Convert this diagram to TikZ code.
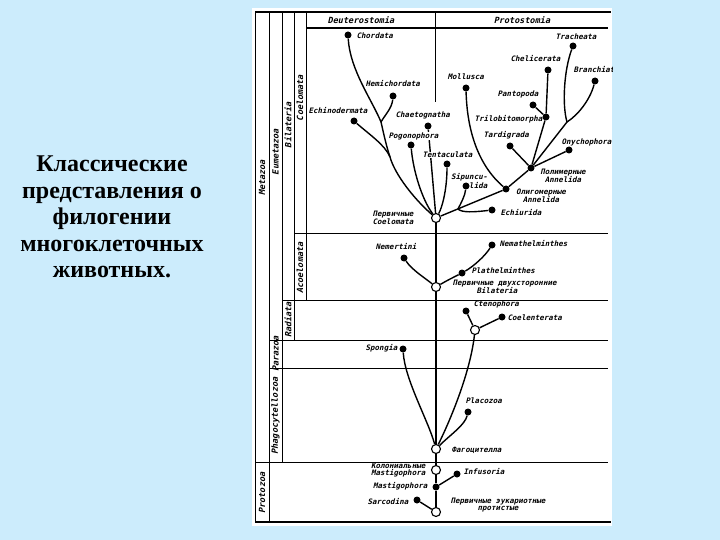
\documentclass[tikz,border=0pt]{standalone}
\usepackage{fontspec}
\setmainfont{Liberation Serif}
\newfontfamily\labfont[FakeSlant=0.22]{DejaVu Sans Mono}
\definecolor{bg}{RGB}{204,236,252}
\tikzset{
 lab/.style={font=\labfont\bfseries\fontsize{7.5}{8.5}\selectfont, inner sep=0.5pt},
 tight/.style={font=\labfont\bfseries\fontsize{7.5}{7.5}\selectfont},
 hdr/.style={font=\labfont\bfseries\fontsize{8.5}{9}\selectfont, inner sep=0.5pt},
 col/.style={font=\labfont\bfseries\fontsize{8.5}{9}\selectfont, rotate=90, inner sep=0.5pt},
 dot/.style={circle, fill=black, inner sep=0pt, minimum size=7pt},
 ring/.style={circle, draw=black, fill=white, line width=1.1pt, inner sep=0pt, minimum size=9pt},
 br/.style={line width=1.4pt},
 fr/.style={line width=0.8pt},
 mask/.style={fill=white}
}
\begin{document}
\begin{tikzpicture}[x=1pt,y=-1pt]
\fill[bg] (0,0) rectangle (720,540);
\useasboundingbox (0,0) rectangle (720,540);
% title
\node[font=\bfseries\fontsize{24}{26.5}\selectfont, align=center] (title) at (112,217)
 {Классические\\представления о\\филогении\\многоклеточных\\животных.};
% panel
\fill[white] (252,8) rectangle (612,526);
\begin{scope}
\clip (252,8) rectangle (612,526);
% frame
\draw[line width=1.1pt] (255,12) -- (611,12);
\draw[line width=1.6pt] (255,522) -- (611,522);
\draw[fr] (255,12) -- (255,522);
\draw[fr] (269,12) -- (269,522);
\draw[fr] (282,12) -- (282,462);
\draw[fr] (294,12) -- (294,340);
\draw[fr] (306,12) -- (306,300);
\draw[line width=1.2pt] (306,28) -- (608,28);
\draw[fr] (435,12) -- (435,102);
\draw[fr] (294,233) -- (608,233);
\draw[fr] (282,300) -- (608,300);
\draw[fr] (269,340) -- (608,340);
\draw[fr] (269,368) -- (608,368);
\draw[fr] (255,462) -- (608,462);
% column labels
\node[col] (lmeta) at (262,178) {Metazoa};
\node[col] (leume) at (275.5,152) {Eumetazoa};
\node[col] (lbila) at (288,125) {Bilateria};
\node[col] (lcoelo) at (300,98) {Coelomata};
\node[col] (lacoel) at (300,268) {Acoelomata};
\node[col] (lrad) at (288,320) {Radiata};
\node[col] (lpara) at (275.5,354) {Parazoa};
\node[col] (lphagz) at (275.5,416) {Phagocytellozoa};
\node[col] (lproto) at (262,493) {Protozoa};
\node[hdr] (ldeut) at (361,20) {Deuterostomia};
\node[hdr] (lprot) at (522,20) {Protostomia};
% tree nodes
\node[ring] (p0) at (436,512) {};
\node[dot] (mast) at (436,487) {};
\node[ring] (cmast) at (436,470) {};
\node[ring] (phag) at (436,449) {};
\node[ring] (bil) at (436,287) {};
\node[ring] (coel) at (436,218) {};
\node[dot] (sarc) at (417,500) {};
\node[dot] (inf) at (457,474) {};
\node[dot] (spon) at (403,349) {};
\node[dot] (plac) at (468,412) {};
\node[ring] (cnid) at (475,330) {};
\node[dot] (cten) at (466,311) {};
\node[dot] (coelen) at (502,317) {};
\node[dot] (nemer) at (404,258) {};
\node[dot] (plat) at (462,273) {};
\node[dot] (nemat) at (492,245) {};
\node[dot] (chor) at (348,35) {};
\node[dot] (hemi) at (393,96) {};
\node[dot] (echin) at (354,121) {};
\node[dot] (chaet) at (428,126) {};
\node[dot] (pogo) at (411,145) {};
\node[dot] (tent) at (447,164) {};
\node[dot] (sip) at (466,186) {};
\node[dot] (echiu) at (492,210) {};
\node[dot] (olig) at (506,189) {};
\node[dot] (poly) at (531,168) {};
\node[dot] (onych) at (569,150) {};
\node[dot] (tard) at (510,146) {};
\node[dot] (moll) at (466,88) {};
\node[dot] (trach) at (573,46) {};
\node[dot] (branch) at (595,81) {};
\node[dot] (chel) at (548,70) {};
\node[dot] (panto) at (533,105) {};
\node[dot] (trilo) at (546,117) {};
\coordinate (J1) at (390,157);
\coordinate (J2) at (381,122);
\coordinate (JS) at (458,209);
\coordinate (JA) at (567,122);
% connectors
\draw[br] (p0) -- (mast) -- (cmast) -- (phag) -- (bil) -- (coel);
\draw[br] (sarc) -- (p0);
\draw[br] (inf) -- (mast);
\draw[br] (phag) .. controls (428,420) and (405,380) .. (spon);
\draw[br] (phag) .. controls (448,425) and (470,375) .. (cnid);
\draw[br] (phag) .. controls (450,435) and (465,425) .. (plac);
\draw[br] (cten) -- (cnid) -- (coelen);
\draw[br] (bil) .. controls (446,281) and (454,277) .. (plat) .. controls (474,266) and (485,256) .. (nemat);
\draw[br] (nemer) .. controls (412,270) and (425,278) .. (bil);
\draw[br] (coel) .. controls (415,200) and (395,175) .. (J1) .. controls (386,145) and (384,135) .. (J2) .. controls (372,100) and (350,70) .. (chor);
\draw[br] (echin) .. controls (370,135) and (385,145) .. (J1);
\draw[br] (hemi) .. controls (392,108) and (385,115) .. (J2);
\draw[br] (chaet) -- (coel);
\draw[br] (pogo) .. controls (413,170) and (422,200) .. (coel);
\draw[br] (tent) .. controls (447,190) and (442,208) .. (coel);
\draw[br] (coel) -- (olig) -- (poly) -- (onych);
\draw[br] (sip) .. controls (465,196) and (461,203) .. (JS);
\draw[br] (JS) .. controls (462,213) and (475,212) .. (echiu);
\draw[br] (moll) .. controls (467,130) and (478,165) .. (olig);
\draw[br] (tard) -- (poly);
\draw[br] (poly) -- (JA);
\draw[br] (trach) .. controls (564,70) and (562,105) .. (JA);
\draw[br] (branch) .. controls (590,100) and (578,115) .. (JA);
\draw[br] (chel) -- (trilo);
\draw[br] (panto) -- (trilo);
\draw[br] (trilo) -- (poly);
% labels
\node[lab,anchor=west] (lchor) at (356,36) {Chordata};
\node[lab,anchor=west] (lhemi) at (365,84) {Hemichordata};
\node[lab,anchor=west] (lechin) at (308,111) {Echinodermata};
\node[lab,anchor=west] (lchaet) at (395,115) {Chaetognatha};
\node[lab,anchor=west,mask] (lpogo) at (388,136) {Pogonophora};
\node[lab,anchor=west,mask] (ltent) at (422,155) {Tentaculata};
\node[lab,anchor=east,align=right] (lsip) at (488,181) {Sipuncu-\\lida};
\node[lab,anchor=west] (lmoll) at (447,77) {Mollusca};
\node[lab,anchor=west] (ltrach) at (555,37) {Tracheata};
\node[lab,anchor=west] (lchel) at (510,59) {Chelicerata};
\node[lab,anchor=west] (lbranch) at (573,70) {Branchiata};
\node[lab,anchor=west] (lpanto) at (497,94) {Pantopoda};
\node[lab,anchor=west] (ltrilo) at (474,119) {Trilobitomorpha};
\node[lab,anchor=west] (ltard) at (483,135) {Tardigrada};
\node[lab,anchor=west] (lonych) at (561,142) {Onychophora};
\node[lab,align=center] (lpoly) at (563,176) {Полимерные\\Annelida};
\node[lab,align=center] (lolig) at (541,196) {Олигомерные\\Annelida};
\node[lab,anchor=west] (lechiu) at (500,213) {Echiurida};
\node[lab,anchor=west,align=left] (lpcoel) at (372,218) {Первичные\\Coelomata};
\node[lab,anchor=west] (lnemer) at (375,247) {Nemertini};
\node[lab,anchor=west] (lnemat) at (499,244) {Nemathelminthes};
\node[lab,anchor=west] (lplat) at (471,271) {Plathelminthes};
\node[lab,anchor=west,align=left] (lpbil) at (452,287) {Первичные двухсторонние\\\hspace*{24pt}Bilateria};
\node[lab,anchor=west] (lcten) at (473,304) {Ctenophora};
\node[lab,anchor=west] (lcoelen) at (507,318) {Coelenterata};
\node[lab,anchor=east] (lspon) at (398,348) {Spongia};
\node[lab,anchor=west] (lplac) at (465,401) {Placozoa};
\node[lab,anchor=west] (lphag) at (451,450) {Фагоцителла};
\node[lab,tight,anchor=east,align=right] (lcmast) at (426,470) {Колониальные\\Mastigophora};
\node[lab,anchor=east] (lmast) at (428,486) {Mastigophora};
\node[lab,anchor=east] (lsarc) at (409,502) {Sarcodina};
\node[lab,anchor=west] (linf) at (463,472) {Infusoria};
\node[lab,tight,align=center] (lp0) at (498,505) {Первичные эукариотные\\протистые};
\end{scope}
\end{tikzpicture}
\end{document}
